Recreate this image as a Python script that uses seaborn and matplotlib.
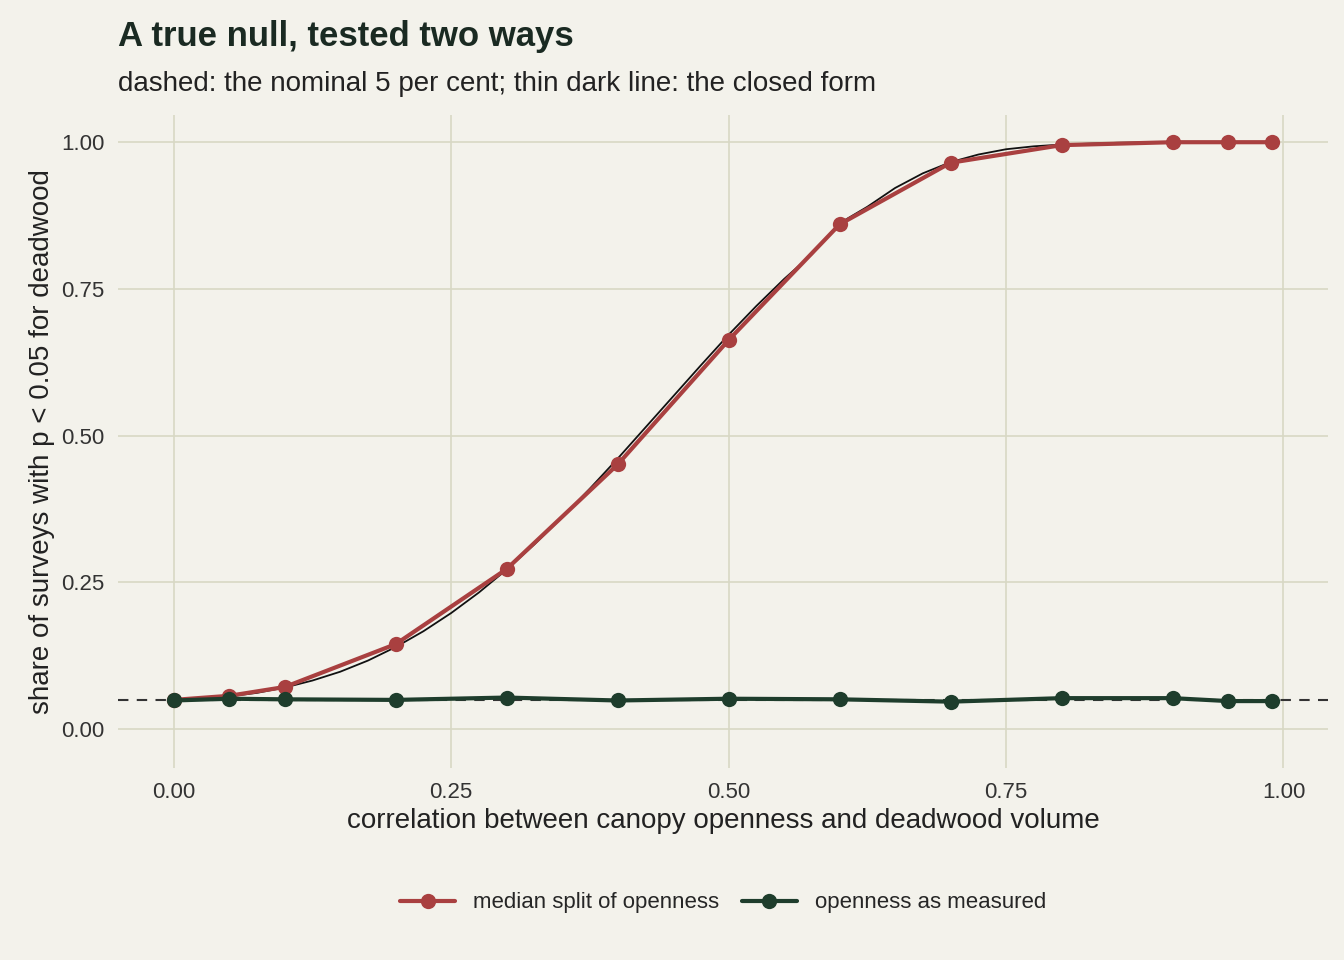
import numpy as np
import pandas as pd
import matplotlib
matplotlib.use("Agg")
import matplotlib.pyplot as plt
import seaborn as sns

BG = "#f3f2eb"
GRID = "#d8d8c4"
RED = "#a94040"
GREEN = "#1e3d2c"

rho = [0.0, 0.05, 0.1, 0.2, 0.3, 0.4, 0.5, 0.6, 0.7, 0.8, 0.9, 0.95, 0.99]
median_split = [0.050, 0.057, 0.072, 0.145, 0.273, 0.451, 0.663, 0.860, 0.965, 0.995, 1.0, 1.0, 1.0]
as_measured = [0.049, 0.052, 0.051, 0.050, 0.054, 0.049, 0.052, 0.051, 0.047, 0.053, 0.053, 0.048, 0.048]

# closed form curve
closed_x = [0.0, 0.025, 0.05, 0.075, 0.1, 0.125, 0.15, 0.175, 0.2, 0.225, 0.25, 0.275,
            0.3, 0.325, 0.35, 0.375, 0.4, 0.425, 0.45, 0.475, 0.5, 0.525, 0.55, 0.575,
            0.6, 0.625, 0.65, 0.675, 0.7, 0.725, 0.75, 0.775, 0.8, 0.85, 0.9, 0.95, 0.99]
closed_y = [0.050, 0.052, 0.056, 0.062, 0.071, 0.083, 0.098, 0.117, 0.140, 0.167, 0.198,
            0.233, 0.272, 0.315, 0.361, 0.410, 0.461, 0.514, 0.567, 0.620, 0.672, 0.721,
            0.767, 0.809, 0.862, 0.890, 0.922, 0.947, 0.966, 0.979, 0.988, 0.993, 0.996,
            0.999, 1.0, 1.0, 1.0]

df = pd.DataFrame({
    "rho": rho * 2,
    "share": median_split + as_measured,
    "method": ["median split of openness"] * len(rho) + ["openness as measured"] * len(rho),
})

sns.set_theme(style="white")
plt.rcParams["font.family"] = ["Liberation Sans", "DejaVu Sans"]

fig, ax = plt.subplots(figsize=(13.44, 9.6), dpi=100)
fig.patch.set_facecolor(BG)
ax.set_facecolor(BG)

ax.axhline(0.05, color="#333333", lw=1.5, ls=(0, (5, 4)), zorder=1)
ax.plot(closed_x, closed_y, color="#111111", lw=1.3, zorder=2)
sns.lineplot(data=df, x="rho", y="share", hue="method", palette=[RED, GREEN],
             marker="o", markersize=11, markeredgewidth=0, lw=3, ax=ax, zorder=3)

ax.set_xlim(-0.05, 1.04)
ax.set_ylim(-0.066, 1.046)
ax.set_xticks([0, 0.25, 0.5, 0.75, 1.0])
ax.set_yticks([0, 0.25, 0.5, 0.75, 1.0])
ax.set_xticklabels(["0.00", "0.25", "0.50", "0.75", "1.00"])
ax.set_yticklabels(["0.00", "0.25", "0.50", "0.75", "1.00"])
ax.tick_params(labelsize=16, colors="#333333", length=0, pad=10)
ax.grid(True, color=GRID, lw=1.2)
for s in ax.spines.values():
    s.set_visible(False)

ax.set_xlabel("correlation between canopy openness and deadwood volume", fontsize=20, color="#222222")
ax.set_ylabel("share of surveys with p < 0.05 for deadwood", fontsize=20, color="#222222")

leg = ax.legend(loc="upper center", bbox_to_anchor=(0.5, -0.16), ncol=2, frameon=False,
                fontsize=16, title=None, handlelength=2.5, columnspacing=1.0)

fig.subplots_adjust(left=0.088, right=0.988, top=0.88, bottom=0.2)
fig.text(0.088, 0.952, "A true null, tested two ways", fontsize=25, weight="bold", color="#1a2a22")
fig.text(0.088, 0.905, "dashed: the nominal 5 per cent; thin dark line: the closed form",
         fontsize=20, color="#222222")

fig.savefig("out.png", dpi=100, facecolor=BG)
